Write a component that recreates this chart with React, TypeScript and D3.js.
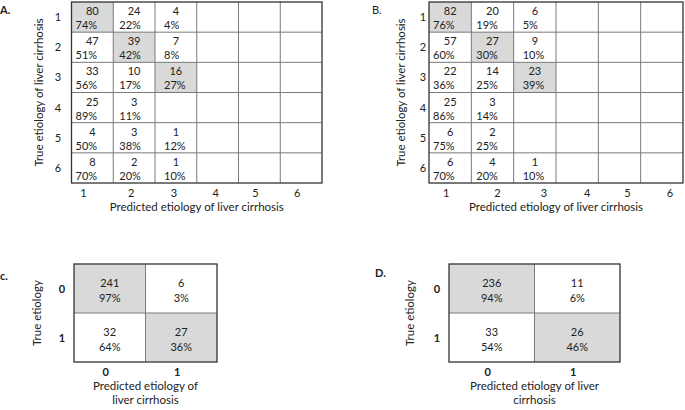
import React from "react";
import * as d3 from "d3";

// ---------- data ----------
const multiRows = ["1", "2", "3", "4", "5", "6"];
const multiCols = ["1", "2", "3", "4", "5", "6"];

const countsA: (number | null)[][] = [
  [80, 24, 4],
  [47, 39, 7],
  [33, 10, 16],
  [25, 3, null],
  [4, 3, 1],
  [8, 2, 1],
];
const pctA: (string | null)[][] = [
  ["74%", "22%", "4%"],
  ["51%", "42%", "8%"],
  ["56%", "17%", "27%"],
  ["89%", "11%", null],
  ["50%", "38%", "12%"],
  ["70%", "20%", "10%"],
];
const countsB: (number | null)[][] = [
  [82, 20, 6],
  [57, 27, 9],
  [22, 14, 23],
  [25, 3, null],
  [6, 2, null],
  [6, 4, 1],
];
const pctB: (string | null)[][] = [
  ["76%", "19%", "5%"],
  ["60%", "30%", "10%"],
  ["36%", "25%", "39%"],
  ["86%", "14%", null],
  ["75%", "25%", null],
  ["70%", "20%", "10%"],
];

const binRows = ["0", "1"];
const binCols = ["0", "1"];
const countsC = [
  [241, 6],
  [32, 27],
];
const pctC = [
  ["97%", "3%"],
  ["64%", "36%"],
];
const countsD = [
  [236, 11],
  [33, 26],
];
const pctD = [
  ["94%", "6%"],
  ["54%", "46%"],
];

const yTitleMulti = "True etiology of liver cirrhosis";
const xTitleMulti = "Predicted etiology of liver cirrhosis";
const yTitleBin = "True etiology";
const xTitleC = ["Predicted etiology of", "liver cirrhosis"];
const xTitleD = ["Predicted etiology of liver", "cirrhosis"];

// ---------- styles ----------
const FONT = "Lato, 'Open Sans', sans-serif";
const TXT = "#222";
const SHADE = "#d9d9d9";
const INNER = "#7a7a7a";
const OUTER = "#333";

type MultiProps = {
  x0: number; x1: number; y0: number; y1: number;
  counts: (number | null)[][]; pcts: (string | null)[][];
  letter: string; letterX: number; letterBold: boolean;
  rowLabelX: number; yTitleX: number; colLabelDx: number[]; pctPad: number[];
};

function MultiMatrix(p: MultiProps) {
  const x = d3.scaleBand<string>().domain(multiCols).range([p.x0, p.x1]);
  const y = d3.scaleBand<string>().domain(multiRows).range([p.y0, p.y1]);
  const bw = x.bandwidth();
  const bh = y.bandwidth();
  const midY = (p.y0 + p.y1) / 2;
  return (
    <g>
      <text x={p.letterX} y={14} fontSize={11} fontWeight={p.letterBold ? 700 : 400} fill={TXT}>{p.letter}</text>
      {p.counts.map((row, ri) =>
        row.map((v, ci) =>
          v !== null && ri === ci ? (
            <rect key={`s${ri}-${ci}`} x={x(multiCols[ci])!} y={y(multiRows[ri])!} width={bw} height={bh} fill={SHADE} />
          ) : null
        )
      )}
      {multiCols.slice(1).map((c) => (
        <line key={`v${c}`} x1={x(c)!} x2={x(c)!} y1={p.y0} y2={p.y1} stroke={INNER} strokeWidth={1} />
      ))}
      {multiRows.slice(1).map((r) => (
        <line key={`h${r}`} x1={p.x0} x2={p.x1} y1={y(r)!} y2={y(r)!} stroke={INNER} strokeWidth={1} />
      ))}
      <rect x={p.x0} y={p.y0} width={p.x1 - p.x0} height={p.y1 - p.y0} fill="none" stroke={OUTER} strokeWidth={1.3} />
      {p.counts.map((row, ri) =>
        row.map((v, ci) =>
          v === null ? null : (
            <g key={`t${ri}-${ci}`}>
              <text x={x(multiCols[ci])! + bw / 2} y={y(multiRows[ri])! + 13} textAnchor="middle" fontSize={11} fill={TXT}>{v}</text>
              <text x={x(multiCols[ci])! + p.pctPad[ci]} y={y(multiRows[ri])! + 27} fontSize={11} fill={TXT}>{p.pcts[ri][ci]}</text>
            </g>
          )
        )
      )}
      {multiRows.map((r) => (
        <text key={`rl${r}`} x={p.rowLabelX} y={y(r)! + bh / 2 + 4} textAnchor="middle" fontSize={11} fill={TXT}>{r}</text>
      ))}
      {multiCols.map((c, i) => (
        <text key={`cl${c}`} x={x(c)! + bw / 2 + p.colLabelDx[i]} y={p.y1 + 14} textAnchor="middle" fontSize={11} fill={TXT}>{c}</text>
      ))}
      <text transform={`translate(${p.yTitleX},${midY}) rotate(-90)`} textAnchor="middle" fontSize={11.5} fill={TXT}>{yTitleMulti}</text>
      <text x={(p.x0 + p.x1) / 2} y={p.y1 + 28} textAnchor="middle" fontSize={11.5} fill={TXT}>{xTitleMulti}</text>
    </g>
  );
}

type BinProps = {
  x0: number; x1: number; y0: number; y1: number;
  counts: number[][]; pcts: string[][];
  letter: string; letterX: number; letterY: number;
  rowLabelX: number; yTitleX: number; xTitle: string[];
};

function BinMatrix(p: BinProps) {
  const x = d3.scaleBand<string>().domain(binCols).range([p.x0, p.x1]);
  const y = d3.scaleBand<string>().domain(binRows).range([p.y0, p.y1]);
  const bw = x.bandwidth();
  const bh = y.bandwidth();
  const midY = (p.y0 + p.y1) / 2;
  const midX = (p.x0 + p.x1) / 2;
  return (
    <g>
      <text x={p.letterX} y={p.letterY} fontSize={11} fontWeight={700} fill={TXT}>{p.letter}</text>
      {p.counts.map((row, ri) =>
        row.map((_, ci) =>
          ri === ci ? (
            <rect key={`s${ri}-${ci}`} x={x(binCols[ci])!} y={y(binRows[ri])!} width={bw} height={bh} fill={SHADE} />
          ) : null
        )
      )}
      <line x1={x("1")!} x2={x("1")!} y1={p.y0} y2={p.y1} stroke={INNER} strokeWidth={1} />
      <line x1={p.x0} x2={p.x1} y1={y("1")!} y2={y("1")!} stroke={INNER} strokeWidth={1} />
      <rect x={p.x0} y={p.y0} width={p.x1 - p.x0} height={p.y1 - p.y0} fill="none" stroke={OUTER} strokeWidth={1.3} />
      {p.counts.map((row, ri) =>
        row.map((v, ci) => (
          <g key={`t${ri}-${ci}`}>
            <text x={x(binCols[ci])! + bw / 2} y={y(binRows[ri])! + bh / 2 - 2} textAnchor="middle" fontSize={11} fill={TXT}>{v}</text>
            <text x={x(binCols[ci])! + bw / 2} y={y(binRows[ri])! + bh / 2 + 13} textAnchor="middle" fontSize={11} fill={TXT}>{p.pcts[ri][ci]}</text>
          </g>
        ))
      )}
      {binRows.map((r) => (
        <text key={`rl${r}`} x={p.rowLabelX} y={y(r)! + bh / 2 + 4} textAnchor="middle" fontSize={11} fontWeight={700} fill={TXT}>{r}</text>
      ))}
      {binCols.map((c) => (
        <text key={`cl${c}`} x={x(c)! + bw / 2 - 4} y={p.y1 + 14} textAnchor="middle" fontSize={11} fontWeight={700} fill={TXT}>{c}</text>
      ))}
      <text transform={`translate(${p.yTitleX},${midY}) rotate(-90)`} textAnchor="middle" fontSize={11.5} fill={TXT}>{yTitleBin}</text>
      {p.xTitle.map((t, i) => (
        <text key={`xt${i}`} x={midX} y={p.y1 + 28 + i * 14} textAnchor="middle" fontSize={11.5} fill={TXT}>{t}</text>
      ))}
    </g>
  );
}

export default function App() {
  return (
    <svg width={685} height={410} style={{ position: "absolute", left: 0, top: 0, background: "#fff", fontFamily: FONT }}>
      <MultiMatrix x0={71.5} x1={322} y0={2} y1={183} counts={countsA} pcts={pctA}
        letter="A." letterX={0} letterBold={true} rowLabelX={58} yTitleX={43}
        colLabelDx={[-9, -3, -2, -2, -4, -4]} pctPad={[4, 6, 9]} />
      <MultiMatrix x0={429} x1={683} y0={2} y1={183} counts={countsB} pcts={pctB}
        letter="B." letterX={372} letterBold={false} rowLabelX={423} yTitleX={405}
        colLabelDx={[-4, 5, 9, 10, 8, 8]} pctPad={[4, 5, 9]} />
      <BinMatrix x0={74} x1={217} y0={264} y1={362} counts={countsC} pcts={pctC}
        letter="c." letterX={0} letterY={280} rowLabelX={62} yTitleX={41} xTitle={xTitleC} />
      <BinMatrix x0={449} x1={620} y0={264} y1={362} counts={countsD} pcts={pctD}
        letter="D." letterX={375} letterY={277} rowLabelX={437} yTitleX={414} xTitle={xTitleD} />
    </svg>
  );
}
